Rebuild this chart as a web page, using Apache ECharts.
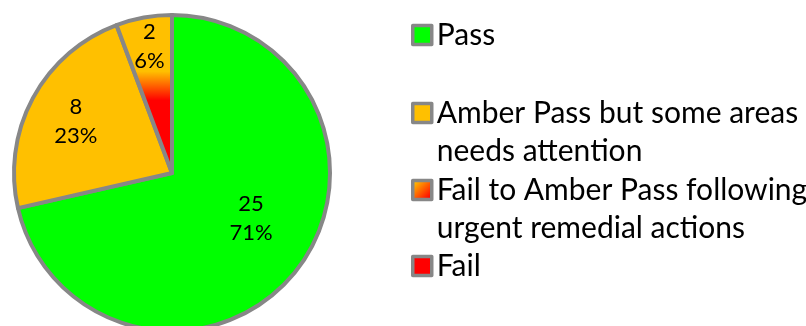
<!DOCTYPE html>
<html>
<head>
<meta charset="utf-8">
<script src="https://cdn.jsdelivr.net/npm/echarts@6/dist/echarts.min.js"></script>
<style>
  html, body { margin: 0; padding: 0; background: #ffffff; }
  #chart { width: 806px; height: 326px; }
</style>
</head>
<body>
<div id="chart"></div>
<script>
// Inspection outcome categories and their counts
const categories = [
  'Pass',
  'Amber Pass but some areas needs attention',
  'Fail to Amber Pass following urgent remedial actions',
  'Fail'
];
// Legend wording, wrapped; a leading blank line keeps the icon beside the first line
const legendLabels = [
  'Pass',
  '\nAmber Pass but some areas\nneeds attention',
  '\nFail to Amber Pass following\nurgent remedial actions',
  'Fail'
];
const counts = [25, 8, 2, 0];

// Styling
const FONT = 'Lato';
const BORDER = '#878787';
const AMBER = '#FFC000';
const RED = '#FF0000';
const GREEN = '#00FF00';

const sliceFills = [
  GREEN,
  AMBER,
  new echarts.graphic.LinearGradient(0, 0, 0, 1, [
    { offset: 0, color: AMBER },
    { offset: 0.36, color: AMBER },
    { offset: 0.54, color: RED },
    { offset: 1, color: RED }
  ]),
  RED
];
const legendFills = [
  GREEN,
  AMBER,
  new echarts.graphic.LinearGradient(0, 0, 1, 1, [
    { offset: 0.15, color: AMBER },
    { offset: 0.85, color: RED }
  ]),
  RED
];
// label nudges from the default inside position (px)
const labelNudge = [[15, -6], [-24, -13], [-8, -46], [0, 0]];
const legendTop = [16, 56, 133, 247];

const chart = echarts.init(document.getElementById('chart'), null, { renderer: 'canvas' });

const legends = categories.map((name, i) => ({
  orient: 'vertical',
  left: 411,
  top: legendTop[i],
  itemWidth: 19,
  itemHeight: 19,
  padding: 0,
  selectedMode: false,
  icon: 'rect',
  itemStyle: { borderColor: BORDER, borderWidth: 3.5 },
  formatter: n => legendLabels[categories.indexOf(n)],
  textStyle: {
    fontFamily: FONT,
    fontSize: 30,
    color: '#000',
    lineHeight: 38
  },
  data: [{ name: name, itemStyle: { color: legendFills[i] } }]
}));

chart.setOption({
  animation: false,
  backgroundColor: '#ffffff',
  legend: legends,
  series: [{
    type: 'pie',
    center: [172, 173],
    radius: 158,
    startAngle: 90,
    clockwise: true,
    percentPrecision: 0,
    avoidLabelOverlap: false,
    itemStyle: { borderColor: BORDER, borderWidth: 4 },
    emphasis: { disabled: true },
    label: {
      show: true,
      position: 'inside',
      formatter: '{c}\n{d}%',
      fontFamily: FONT,
      fontSize: 22,
      lineHeight: 29,
      color: '#000'
    },
    labelLine: { show: false },
    labelLayout: p => ({ dx: labelNudge[p.dataIndex][0], dy: labelNudge[p.dataIndex][1] }),
    data: categories.map((name, i) => ({
      name: name,
      value: counts[i],
      itemStyle: { color: sliceFills[i] },
      label: { show: counts[i] > 0 }
    }))
  }]
});
</script>
</body>
</html>
